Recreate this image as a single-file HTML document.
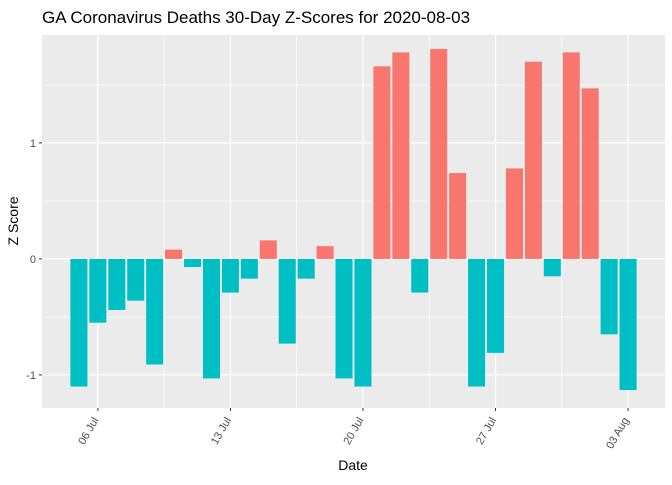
<!DOCTYPE html>
<html><head><meta charset="utf-8"><style>
body{margin:0;background:#fff;font-family:"Liberation Sans",sans-serif}
</style></head><body>
<svg id="chart" width="672" height="480" xmlns="http://www.w3.org/2000/svg">
<rect width="672" height="480" fill="#fff"/>
<text x="42" y="23" font-size="17" fill="#000">GA Coronavirus Deaths 30-Day Z-Scores for 2020-08-03</text>
<rect x="42" y="35" width="623" height="373" fill="#ebebeb"/>
<g id="grid"></g><g id="bars"></g><g id="axes"></g>
<text x="353" y="470" font-size="14" text-anchor="middle">Date</text>
<text transform="translate(18,221) rotate(-90)" font-size="14" text-anchor="middle">Z Score</text>
</svg>
<script>
const dayOffsets=[0,1,2,3,4,5,6,7,8,9,10,11,12,13,14,15,16,17,18,19,20,21,22,23,24,25,26,27,28,29];
const zScores=[-1.10,-0.55,-0.44,-0.36,-0.91,0.08,-0.07,-1.03,-0.29,-0.17,0.16,-0.73,-0.17,0.11,-1.03,-1.10,1.66,1.78,-0.29,1.81,0.74,-1.10,-0.81,0.78,1.70,-0.15,1.78,1.47,-0.65,-1.13];
const xTickDays=[1,8,15,22,29];
const xTickLabels=["06 Jul","13 Jul","20 Jul","27 Jul","03 Aug"];
const yTicks=[-1,0,1];
const yMinor=[-0.5,0.5,1.5];
const NS="http://www.w3.org/2000/svg";
const L=42,R=665,T=35,B=408;
const xMin=-1.95,xMax=30.95,yMin=-1.285,yMax=1.93;
const xs=d=>L+(d-xMin)/(xMax-xMin)*(R-L);
const ys=v=>B-(v-yMin)/(yMax-yMin)*(B-T);
function mk(t,a,p){const e=document.createElementNS(NS,t);for(const k in a)e.setAttribute(k,a[k]);p.appendChild(e);return e;}
const g=document.getElementById('grid'),b=document.getElementById('bars'),ax=document.getElementById('axes');
yMinor.forEach(v=>{const l=mk('line',{x1:L,x2:R,y1:ys(v),y2:ys(v),stroke:'#fff','stroke-width':0.6},g);

});
for(let i=0;i<xTickDays.length+1;i++){const d=xTickDays[0]-3.5+7*i;if(xs(d)>L&&xs(d)<R){const l=mk('line',{x1:xs(d),x2:xs(d),y1:T,y2:B,stroke:'#fff','stroke-width':0.6},g);

}}
yTicks.forEach(v=>{const l=mk('line',{x1:L,x2:R,y1:ys(v),y2:ys(v),stroke:'#fff','stroke-width':1.2},g);


const t=mk('text',{x:L-6,y:ys(v)+4,'font-size':11,'text-anchor':'end',fill:'#4d4d4d'},ax);t.textContent=v;


mk('line',{x1:L-3,x2:L,y1:ys(v),y2:ys(v),stroke:'#333'},ax);});
xTickDays.forEach((d,i)=>{const l=mk('line',{x1:xs(d),x2:xs(d),y1:T,y2:B,stroke:'#fff','stroke-width':1.2},g);


mk('line',{x1:xs(d),x2:xs(d),y1:B,y2:B+3,stroke:'#333'},ax);
const t=mk('text',{transform:`translate(${xs(d)+1},${B+12}) rotate(-60)`,'font-size':11,'text-anchor':'end',fill:'#4d4d4d'},ax);t.textContent=xTickLabels[i];

});
const bw=(xs(0.9)-xs(0));
dayOffsets.forEach((d,i)=>{const v=zScores[i];const y0=ys(0),y1=ys(v);
const r=mk('rect',{x:xs(d)-bw/2,y:Math.min(y0,y1),width:bw,height:Math.abs(y1-y0),fill:v>0?'#f8766d':'#00bfc4'},b);

});
</script>
</body></html>
